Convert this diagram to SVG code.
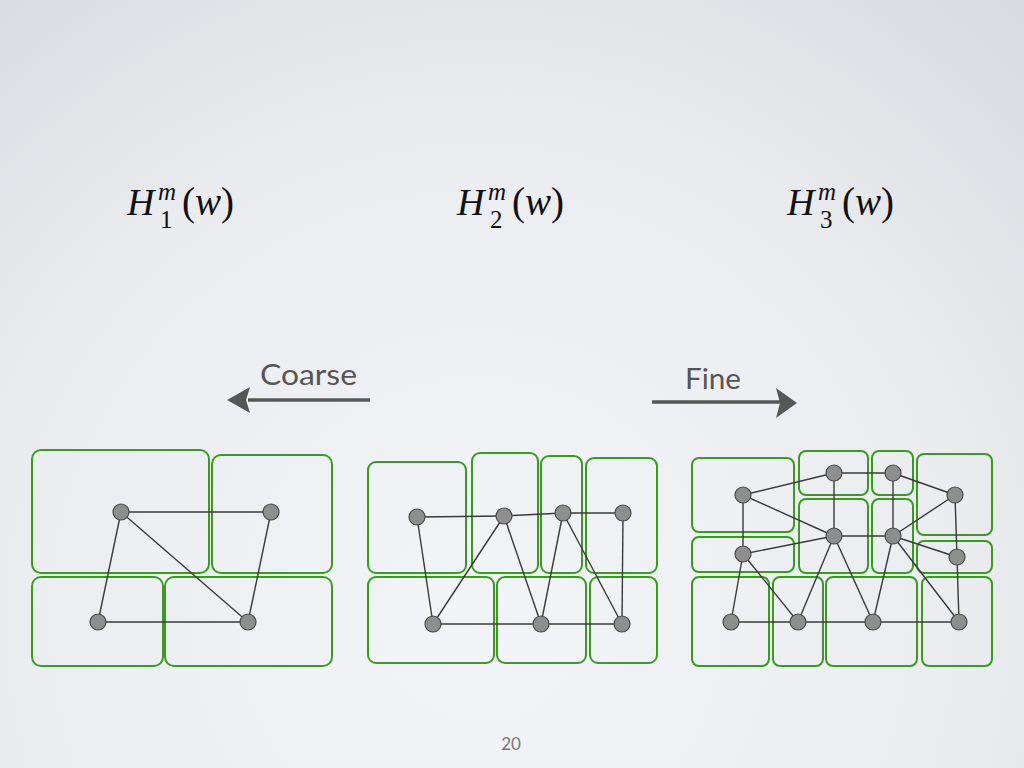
<svg xmlns="http://www.w3.org/2000/svg" width="1024" height="768" viewBox="0 0 1024 768">
<defs>
<radialGradient id="bg" cx="480" cy="620" r="900" gradientUnits="userSpaceOnUse">
<stop offset="0" stop-color="#f3f4f7"/>
<stop offset="0.55" stop-color="#eaecef"/>
<stop offset="1" stop-color="#d3d6dc"/>
</radialGradient>
<style>
.box{fill:none;stroke:#3a9a22;stroke-width:2}
.nd{fill:#8e8e8e;stroke:#4a4a4a;stroke-width:1.2}
.ed{stroke:#3a3a3a;stroke-width:1.4;fill:none}
.mth{font-family:"Liberation Serif","Times New Roman",serif;fill:#111}
.it{font-style:italic}
.lbl{font-family:"Lato","Open Sans",sans-serif;fill:#555;font-size:29px}
.arr{fill:#575757}
.sh{stroke:#575757;stroke-width:3.5;fill:none}
</style>
</defs>
<rect width="1024" height="768" fill="url(#bg)"/>

<g id="labels">
<text class="mth it" x="127" y="215" font-size="38">H</text>
<text class="mth it" x="158" y="200" font-size="25">m</text>
<text class="mth" x="160" y="228" font-size="25">1</text>
<text class="mth" x="182" y="215" font-size="39">(<tspan class="it">w</tspan>)</text>

<text class="mth it" x="457" y="215" font-size="38">H</text>
<text class="mth it" x="488" y="200" font-size="25">m</text>
<text class="mth" x="490" y="228" font-size="25">2</text>
<text class="mth" x="512" y="215" font-size="39">(<tspan class="it">w</tspan>)</text>

<text class="mth it" x="787" y="215" font-size="38">H</text>
<text class="mth it" x="818" y="200" font-size="25">m</text>
<text class="mth" x="820" y="228" font-size="25">3</text>
<text class="mth" x="842" y="215" font-size="39">(<tspan class="it">w</tspan>)</text>
</g>

<g id="coarse">
<text class="lbl" x="260" y="385" textLength="97" lengthAdjust="spacingAndGlyphs">Coarse</text>
<line class="sh" x1="248" y1="400" x2="370" y2="400"/>
<path class="arr" d="M227,400 L250,387 L246,400 L250,413 Z"/>
</g>
<g id="fine">
<text class="lbl" x="685" y="389" textLength="56" lengthAdjust="spacingAndGlyphs">Fine</text>
<line class="sh" x1="652" y1="402" x2="780" y2="402"/>
<path class="arr" d="M797,403 L776,388 L780,403 L776,418 Z"/>
</g>

<g id="panel1">
<g id="p1-boxes">
<rect class="box" x="32" y="450" width="177" height="123" rx="9"/>
<rect class="box" x="212" y="455" width="120" height="118" rx="9"/>
<rect class="box" x="32" y="577" width="131" height="89" rx="9"/>
<rect class="box" x="165" y="577" width="167" height="89" rx="9"/>
</g>
<g id="p1-edges">
<line class="ed" x1="121" y1="512" x2="271" y2="512"/>
<line class="ed" x1="121" y1="512" x2="98" y2="622"/>
<line class="ed" x1="121" y1="512" x2="248" y2="622"/>
<line class="ed" x1="271" y1="512" x2="248" y2="622"/>
<line class="ed" x1="98" y1="622" x2="248" y2="622"/>
</g>
<g id="p1-nodes">
<circle class="nd" cx="121" cy="512" r="8"/>
<circle class="nd" cx="271" cy="512" r="8"/>
<circle class="nd" cx="98" cy="622" r="8"/>
<circle class="nd" cx="248" cy="622" r="8"/>
</g>
</g>

<g id="panel2">
<g id="p2-boxes">
<rect class="box" x="368" y="462" width="98" height="111" rx="8"/>
<rect class="box" x="472" y="453" width="66" height="120" rx="8"/>
<rect class="box" x="541" y="456" width="41" height="117" rx="8"/>
<rect class="box" x="586" y="458" width="71" height="115" rx="8"/>
<rect class="box" x="368" y="577" width="126" height="86" rx="8"/>
<rect class="box" x="497" y="577" width="89" height="86" rx="8"/>
<rect class="box" x="590" y="577" width="67" height="86" rx="8"/>
</g>
<g id="p2-edges">
<line class="ed" x1="417" y1="517" x2="504" y2="516"/>
<line class="ed" x1="504" y1="516" x2="563" y2="513"/>
<line class="ed" x1="563" y1="513" x2="623" y2="513"/>
<line class="ed" x1="417" y1="517" x2="433" y2="624"/>
<line class="ed" x1="433" y1="624" x2="504" y2="516"/>
<line class="ed" x1="504" y1="516" x2="541" y2="624"/>
<line class="ed" x1="541" y1="624" x2="563" y2="513"/>
<line class="ed" x1="563" y1="513" x2="622" y2="624"/>
<line class="ed" x1="623" y1="513" x2="622" y2="624"/>
<line class="ed" x1="433" y1="624" x2="541" y2="624"/>
<line class="ed" x1="541" y1="624" x2="622" y2="624"/>
</g>
<g id="p2-nodes">
<circle class="nd" cx="417" cy="517" r="8"/>
<circle class="nd" cx="504" cy="516" r="8"/>
<circle class="nd" cx="563" cy="513" r="8"/>
<circle class="nd" cx="623" cy="513" r="8"/>
<circle class="nd" cx="433" cy="624" r="8"/>
<circle class="nd" cx="541" cy="624" r="8"/>
<circle class="nd" cx="622" cy="624" r="8"/>
</g>
</g>

<g id="panel3">
<g id="p3-boxes">
<rect class="box" x="692" y="458" width="102" height="74" rx="7"/>
<rect class="box" x="799" y="451" width="69" height="44" rx="7"/>
<rect class="box" x="872" y="451" width="41" height="44" rx="7"/>
<rect class="box" x="917" y="454" width="75" height="81" rx="7"/>
<rect class="box" x="692" y="537" width="102" height="35" rx="7"/>
<rect class="box" x="799" y="499" width="69" height="74" rx="7"/>
<rect class="box" x="872" y="499" width="41" height="74" rx="7"/>
<rect class="box" x="917" y="541" width="75" height="32" rx="7"/>
<rect class="box" x="692" y="577" width="77" height="89" rx="7"/>
<rect class="box" x="773" y="577" width="50" height="89" rx="7"/>
<rect class="box" x="826" y="577" width="91" height="89" rx="7"/>
<rect class="box" x="922" y="577" width="70" height="89" rx="7"/>
</g>
<g id="p3-edges">
<line class="ed" x1="743" y1="495" x2="834" y2="473"/>
<line class="ed" x1="834" y1="473" x2="893" y2="473"/>
<line class="ed" x1="893" y1="473" x2="955" y2="495"/>
<line class="ed" x1="743" y1="495" x2="743" y2="554"/>
<line class="ed" x1="743" y1="495" x2="834" y2="536"/>
<line class="ed" x1="834" y1="473" x2="834" y2="536"/>
<line class="ed" x1="893" y1="473" x2="893" y2="536"/>
<line class="ed" x1="955" y1="495" x2="893" y2="536"/>
<line class="ed" x1="955" y1="495" x2="957" y2="557"/>
<line class="ed" x1="743" y1="554" x2="834" y2="536"/>
<line class="ed" x1="834" y1="536" x2="893" y2="536"/>
<line class="ed" x1="893" y1="536" x2="957" y2="557"/>
<line class="ed" x1="743" y1="554" x2="731" y2="622"/>
<line class="ed" x1="743" y1="554" x2="798" y2="622"/>
<line class="ed" x1="834" y1="536" x2="798" y2="622"/>
<line class="ed" x1="834" y1="536" x2="873" y2="622"/>
<line class="ed" x1="893" y1="536" x2="873" y2="622"/>
<line class="ed" x1="893" y1="536" x2="959" y2="622"/>
<line class="ed" x1="957" y1="557" x2="959" y2="622"/>
<line class="ed" x1="731" y1="622" x2="798" y2="622"/>
<line class="ed" x1="798" y1="622" x2="873" y2="622"/>
<line class="ed" x1="873" y1="622" x2="959" y2="622"/>
</g>
<g id="p3-nodes">
<circle class="nd" cx="743" cy="495" r="8"/>
<circle class="nd" cx="834" cy="473" r="8"/>
<circle class="nd" cx="893" cy="473" r="8"/>
<circle class="nd" cx="955" cy="495" r="8"/>
<circle class="nd" cx="743" cy="554" r="8"/>
<circle class="nd" cx="834" cy="536" r="8"/>
<circle class="nd" cx="893" cy="536" r="8"/>
<circle class="nd" cx="957" cy="557" r="8"/>
<circle class="nd" cx="731" cy="622" r="8"/>
<circle class="nd" cx="798" cy="622" r="8"/>
<circle class="nd" cx="873" cy="622" r="8"/>
<circle class="nd" cx="959" cy="622" r="8"/>
</g>
</g>

<text id="pagenum" x="511" y="750" text-anchor="middle" font-family="Lato,'Open Sans',sans-serif" font-size="17" fill="#777">20</text>
</svg>
